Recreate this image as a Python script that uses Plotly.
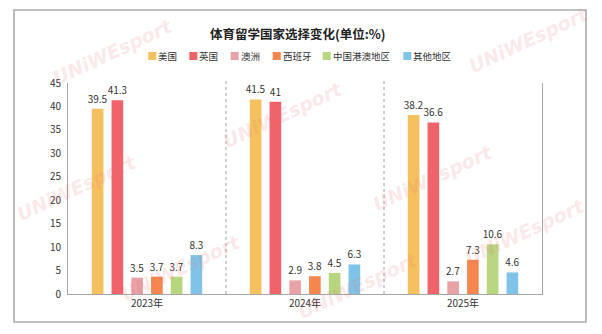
import plotly.graph_objects as go

# ---- data ----
categories = ["2023年", "2024年", "2025年"]
series_names = ["美国", "英国", "澳洲", "西班牙", "中国港澳地区", "其他地区"]
series_colors = ["#F5C15F", "#F0636B", "#E8A1A5", "#F5874E", "#B7D67F", "#7FC4E8"]
values = [
    [39.5, 41.5, 38.2],   # 美国
    [41.3, 41, 36.6],     # 英国
    [3.5, 2.9, 2.7],      # 澳洲
    [3.7, 3.8, 7.3],      # 西班牙
    [3.7, 4.5, 10.6],     # 中国港澳地区
    [8.3, 6.3, 4.6],      # 其他地区
]
y_ticks = [0, 5, 10, 15, 20, 25, 30, 35, 40, 45]
title_text = "体育留学国家选择变化(单位:%)"
watermark_text = "UNiWEsport"

# ---- layout geometry (pixels) ----
W, H = 602, 334
L, R, T, B = 68, 60, 83, 40
PW, PH = W - L - R, H - T - B
FONT = "Noto Sans CJK SC"


def px(x):
    return (x - L) / PW


def py(y):
    return (H - B - y) / PH


fig = go.Figure()
for name, color, vals in zip(series_names, series_colors, values):
    fig.add_trace(go.Bar(
        name=name, x=categories, y=vals, marker_color=color,
        marker_line_width=0,
        text=[f"{v:g}" for v in vals], textposition="outside",
        constraintext="none",
        textfont=dict(size=10, color="#333333", family=FONT),
        cliponaxis=False, showlegend=False,
    ))

shapes = []
annotations = []

# outer frame
shapes.append(dict(type="rect", xref="paper", yref="paper",
                   x0=px(14), x1=px(586), y0=py(322), y1=py(10),
                   line=dict(color="#ababab", width=1.6), layer="below"))

# dashed separators between categories
for sep in [0.5, 1.5]:
    shapes.append(dict(type="line", xref="x", yref="paper",
                       x0=sep, x1=sep, y0=0, y1=py(80),
                       line=dict(color="#a0a0a0", width=1, dash="3px,3px")))

# watermarks (drawn first so they sit beneath other texts)
wm_pos = [(112, 52), (528, 40), (76, 188), (282, 115), (180, 268),
          (432, 178), (524, 232), (357, 286)]
for wx, wy in wm_pos:
    annotations.append(dict(text=f"<b><i>{watermark_text}</i></b>", xref="paper", yref="paper",
                            x=px(wx), y=py(wy), xanchor="center", yanchor="middle",
                            showarrow=False, textangle=-25,
                            font=dict(size=19, color="rgba(235,110,115,0.18)",
                                      family="DejaVu Sans")))

# title
annotations.append(dict(text=f"<b>{title_text}</b>", xref="paper", yref="paper",
                        x=px(298), y=py(33), xanchor="center", yanchor="middle",
                        showarrow=False,
                        font=dict(size=12.5, color="#222222", family=FONT)))

# manual legend
legend_x = [148.3, 189.3, 230.7, 272.7, 322.7, 403.3]
leg_y = 56
for lx, name, color in zip(legend_x, series_names, series_colors):
    shapes.append(dict(type="rect", xref="paper", yref="paper",
                       x0=px(lx), x1=px(lx + 8), y0=py(leg_y + 4), y1=py(leg_y - 4),
                       fillcolor=color, line=dict(width=0)))
    annotations.append(dict(text=name, xref="paper", yref="paper",
                            x=px(lx + 9), y=py(leg_y), xanchor="left", yanchor="middle",
                            showarrow=False, borderpad=0,
                            font=dict(size=9.5, color="#333333", family=FONT)))

fig.update_layout(
    width=W, height=H,
    margin=dict(l=L, r=R, t=T, b=B),
    paper_bgcolor="white", plot_bgcolor="white",
    barmode="group", bargap=0.25, bargroupgap=0.41,
    font=dict(family=FONT, size=10, color="#333333"),
    shapes=shapes, annotations=annotations,
    xaxis=dict(showgrid=False, showline=True, linecolor="#a6a6a6", linewidth=1,
               ticks="", tickfont=dict(size=10, color="#333333", family=FONT),
               fixedrange=True),
    yaxis=dict(range=[0, 45], tickvals=y_ticks, showgrid=False, zeroline=False,
               showline=True, linecolor="#a6a6a6", linewidth=1, mirror=True,
               ticks="", ticklabelstandoff=4,
               tickfont=dict(size=10, color="#333333", family=FONT),
               fixedrange=True),
    showlegend=False,
)

fig.write_html("out.html")
